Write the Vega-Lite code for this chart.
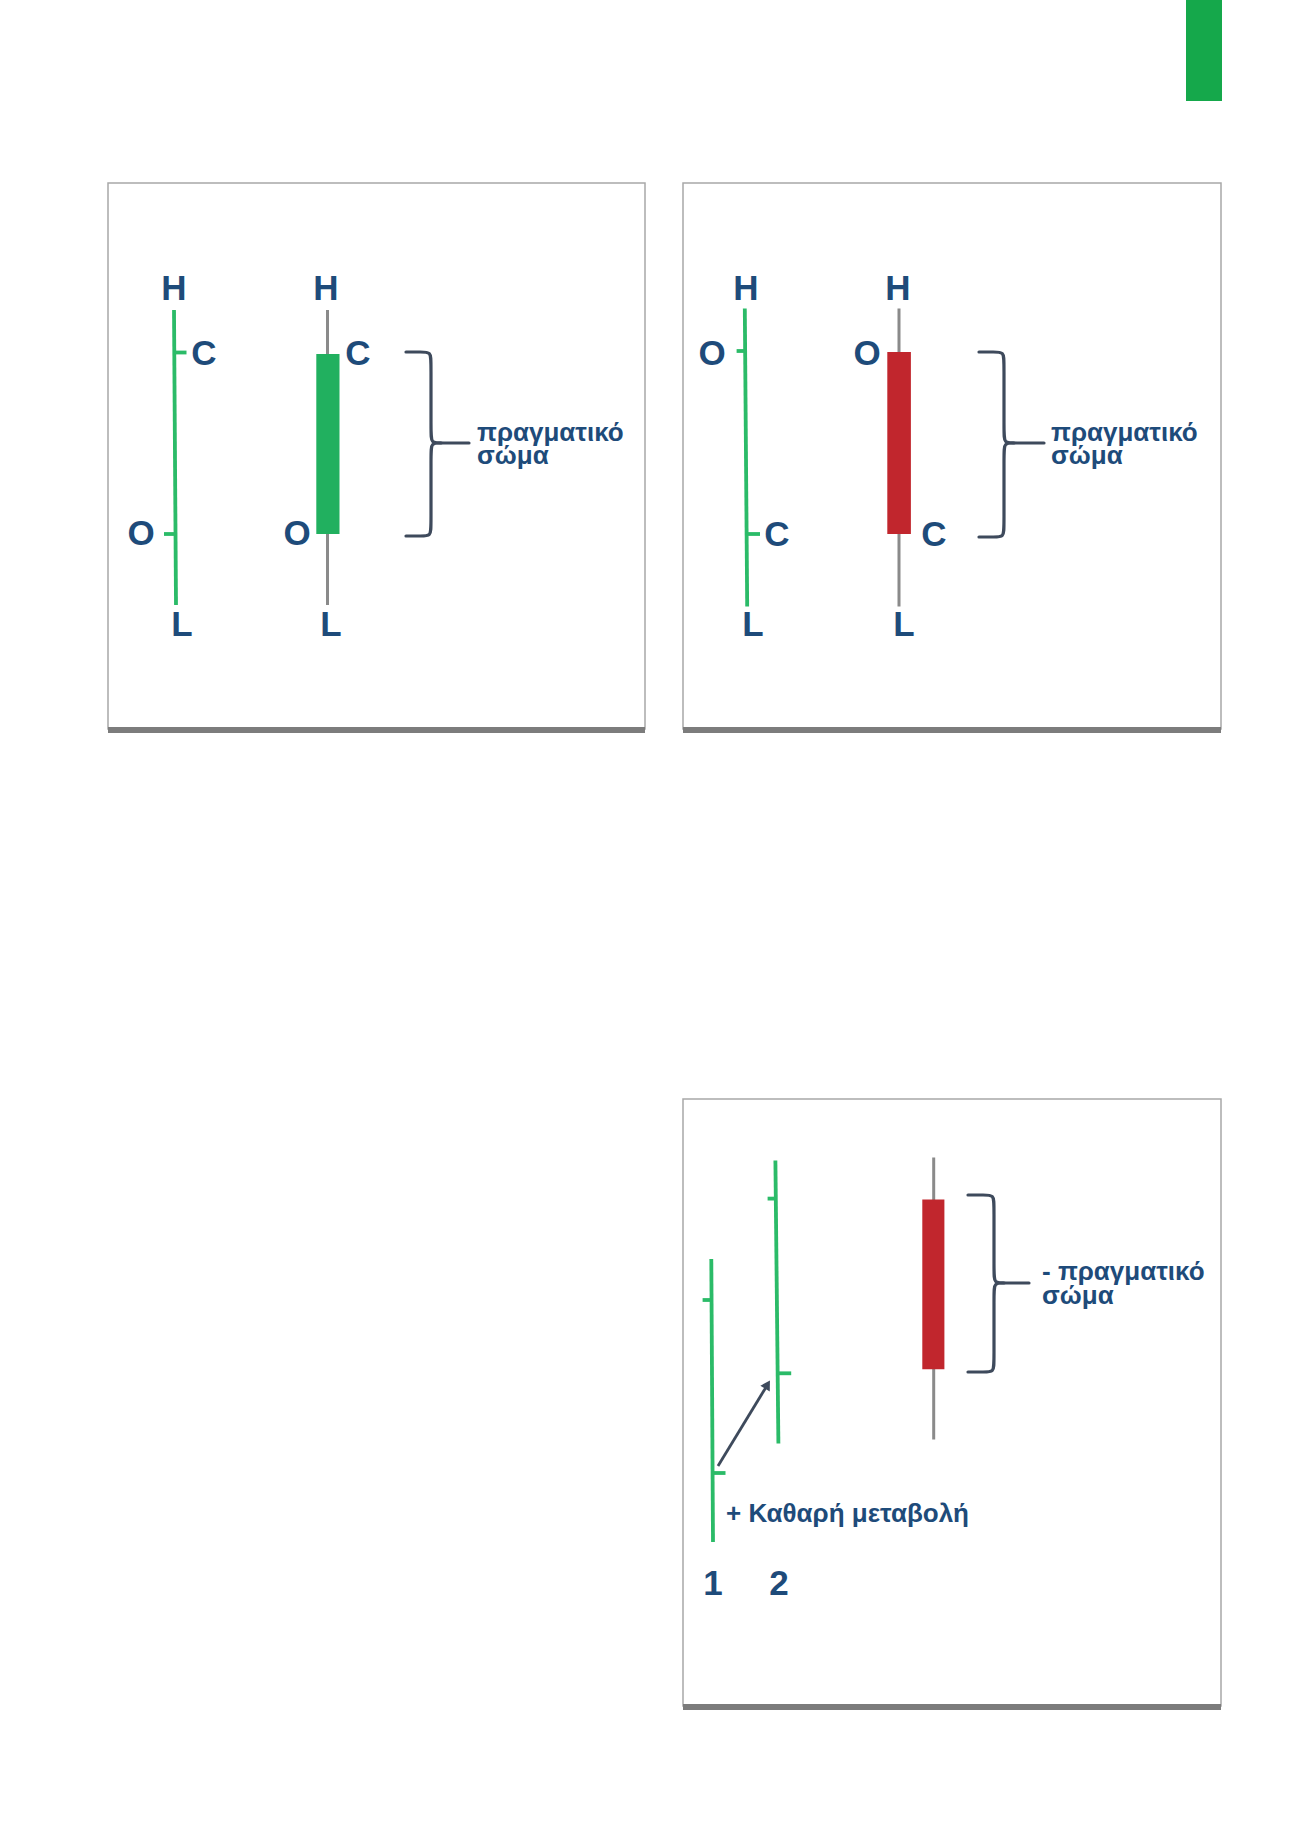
{
  "$schema": "https://vega.github.io/schema/vega-lite/v6.json",
  "width": 1292,
  "height": 1830,
  "autosize": "none",
  "padding": 0,
  "background": "white",
  "config": {"view": {"stroke": null}},
  "datasets": {
    "boxes": [
      {"panel": "1", "x": 108, "y": 183, "x2": 645, "y2": 729},
      {"panel": "2", "x": 683, "y": 183, "x2": 1221, "y2": 729},
      {"panel": "3", "x": 683, "y": 1099, "x2": 1221, "y2": 1706}
    ],
    "shadows": [
      {"panel": "1", "x": 108, "y": 727, "x2": 645, "y2": 733},
      {"panel": "2", "x": 683, "y": 727, "x2": 1221, "y2": 733},
      {"panel": "3", "x": 683, "y": 1704, "x2": 1221, "y2": 1710}
    ],
    "tab": [{"x": 1186, "y": 0, "x2": 1222, "y2": 101}],
    "wicks": [
      {"x": 327.5, "y": 310, "x2": 327.5, "y2": 605},
      {"x": 899, "y": 308.5, "x2": 899, "y2": 606.5},
      {"x": 933.7, "y": 1157.6, "x2": 933.7, "y2": 1439.6}
    ],
    "bodies": [
      {"dir": "up", "x": 316.3, "y": 354, "x2": 339.5, "y2": 534},
      {"dir": "down", "x": 887.3, "y": 352, "x2": 910.9, "y2": 534},
      {"dir": "down", "x": 922.3, "y": 1199.4, "x2": 944.4, "y2": 1369.3}
    ],
    "bars": [
      {"x": 174, "y": 310, "x2": 176, "y2": 605},
      {"x": 175, "y": 352.5, "x2": 186.5, "y2": 352.5},
      {"x": 164, "y": 534, "x2": 176, "y2": 534},
      {"x": 744.8, "y": 308.5, "x2": 747.2, "y2": 606.5},
      {"x": 736.6, "y": 351, "x2": 745.5, "y2": 351},
      {"x": 746.5, "y": 534, "x2": 760, "y2": 534},
      {"x": 711.3, "y": 1259, "x2": 713, "y2": 1542},
      {"x": 702.6, "y": 1300, "x2": 711.8, "y2": 1300},
      {"x": 712.6, "y": 1473, "x2": 725.5, "y2": 1473},
      {"x": 775.4, "y": 1160.4, "x2": 778.4, "y2": 1443.6},
      {"x": 767.6, "y": 1198.6, "x2": 776.2, "y2": 1198.6},
      {"x": 777.6, "y": 1373.3, "x2": 791.2, "y2": 1373.3}
    ],
    "braces": [
      {"id": "1a", "i": 0, "x": 406, "y": 352}, {"id": "1a", "i": 1, "x": 421, "y": 352}, {"id": "1a", "i": 2, "x": 431, "y": 352}, {"id": "1a", "i": 3, "x": 431, "y": 362}, {"id": "1a", "i": 4, "x": 431, "y": 433}, {"id": "1a", "i": 5, "x": 431, "y": 443}, {"id": "1a", "i": 6, "x": 441, "y": 443}, {"id": "1a", "i": 7, "x": 469, "y": 443},
      {"id": "1b", "i": 0, "x": 406, "y": 536}, {"id": "1b", "i": 1, "x": 421, "y": 536}, {"id": "1b", "i": 2, "x": 431, "y": 536}, {"id": "1b", "i": 3, "x": 431, "y": 526}, {"id": "1b", "i": 4, "x": 431, "y": 453}, {"id": "1b", "i": 5, "x": 431, "y": 443}, {"id": "1b", "i": 6, "x": 441, "y": 443},
      {"id": "2a", "i": 0, "x": 979, "y": 352}, {"id": "2a", "i": 1, "x": 994, "y": 352}, {"id": "2a", "i": 2, "x": 1004, "y": 352}, {"id": "2a", "i": 3, "x": 1004, "y": 362}, {"id": "2a", "i": 4, "x": 1004, "y": 433}, {"id": "2a", "i": 5, "x": 1004, "y": 443}, {"id": "2a", "i": 6, "x": 1014, "y": 443}, {"id": "2a", "i": 7, "x": 1044, "y": 443},
      {"id": "2b", "i": 0, "x": 979, "y": 537}, {"id": "2b", "i": 1, "x": 994, "y": 537}, {"id": "2b", "i": 2, "x": 1004, "y": 537}, {"id": "2b", "i": 3, "x": 1004, "y": 527}, {"id": "2b", "i": 4, "x": 1004, "y": 453}, {"id": "2b", "i": 5, "x": 1004, "y": 443}, {"id": "2b", "i": 6, "x": 1014, "y": 443},
      {"id": "3a", "i": 0, "x": 968, "y": 1195}, {"id": "3a", "i": 1, "x": 984, "y": 1195}, {"id": "3a", "i": 2, "x": 994, "y": 1195}, {"id": "3a", "i": 3, "x": 994, "y": 1205}, {"id": "3a", "i": 4, "x": 994, "y": 1273}, {"id": "3a", "i": 5, "x": 994, "y": 1283}, {"id": "3a", "i": 6, "x": 1004, "y": 1283}, {"id": "3a", "i": 7, "x": 1029, "y": 1283},
      {"id": "3b", "i": 0, "x": 968, "y": 1372}, {"id": "3b", "i": 1, "x": 984, "y": 1372}, {"id": "3b", "i": 2, "x": 994, "y": 1372}, {"id": "3b", "i": 3, "x": 994, "y": 1362}, {"id": "3b", "i": 4, "x": 994, "y": 1293}, {"id": "3b", "i": 5, "x": 994, "y": 1283}, {"id": "3b", "i": 6, "x": 1004, "y": 1283}
    ],
    "arrow": [{"x": 718, "y": 1466, "x2": 768, "y2": 1384}],
    "arrowhead": [{"x": 767.5, "y": 1384.5}],
    "labels": [
      {"t": "H", "x": 174, "y": 289}, {"t": "C", "x": 204, "y": 354}, {"t": "O", "x": 141, "y": 534}, {"t": "L", "x": 182, "y": 625},
      {"t": "H", "x": 326, "y": 289}, {"t": "C", "x": 358, "y": 354}, {"t": "O", "x": 297, "y": 534}, {"t": "L", "x": 331, "y": 625},
      {"t": "H", "x": 746, "y": 289}, {"t": "O", "x": 712, "y": 354}, {"t": "C", "x": 777, "y": 535}, {"t": "L", "x": 753, "y": 625},
      {"t": "H", "x": 898, "y": 289}, {"t": "O", "x": 867, "y": 354}, {"t": "C", "x": 934, "y": 535}, {"t": "L", "x": 904, "y": 625},
      {"t": "1", "x": 713, "y": 1584}, {"t": "2", "x": 779, "y": 1584}
    ],
    "captions": [
      {"t": "πραγματικό", "x": 477, "y": 433}, {"t": "σώμα", "x": 477, "y": 456},
      {"t": "πραγματικό", "x": 1051, "y": 433}, {"t": "σώμα", "x": 1051, "y": 456},
      {"t": "- πραγματικό", "x": 1042, "y": 1272}, {"t": "σώμα", "x": 1042, "y": 1296},
      {"t": "+ Καθαρή μεταβολή", "x": 726, "y": 1514}
    ]
  },
  "encoding": {
    "x": {"field": "x", "type": "quantitative", "axis": null, "scale": {"domain": [0, 1292], "nice": false, "zero": false}},
    "y": {"field": "y", "type": "quantitative", "axis": null, "scale": {"domain": [0, 1830], "nice": false, "zero": false, "reverse": true}}
  },
  "layer": [
    {"data": {"name": "boxes"}, "mark": {"type": "rect", "fill": "white", "stroke": "#a8a8a8", "strokeWidth": 1.5}, "encoding": {"x2": {"field": "x2"}, "y2": {"field": "y2"}}},
    {"data": {"name": "shadows"}, "mark": {"type": "rect", "fill": "#7c7c7c"}, "encoding": {"x2": {"field": "x2"}, "y2": {"field": "y2"}}},
    {"data": {"name": "tab"}, "mark": {"type": "rect", "fill": "#15a84b"}, "encoding": {"x2": {"field": "x2"}, "y2": {"field": "y2"}}},
    {"data": {"name": "wicks"}, "mark": {"type": "rule", "stroke": "#8a8a8a", "strokeWidth": 3}, "encoding": {"x2": {"field": "x2"}, "y2": {"field": "y2"}}},
    {"data": {"name": "bodies"}, "mark": {"type": "rect"}, "encoding": {"x2": {"field": "x2"}, "y2": {"field": "y2"}, "color": {"field": "dir", "type": "nominal", "legend": null, "scale": {"domain": ["up", "down"], "range": ["#21b05f", "#c1262d"]}}}},
    {"data": {"name": "bars"}, "mark": {"type": "rule", "stroke": "#2bbb68", "strokeWidth": 3.8}, "encoding": {"x2": {"field": "x2"}, "y2": {"field": "y2"}}},
    {"data": {"name": "braces"}, "mark": {"type": "line", "stroke": "#3e4a5c", "strokeWidth": 3.2, "interpolate": "basis", "strokeCap": "round"}, "encoding": {"detail": {"field": "id"}, "order": {"field": "i", "type": "quantitative"}}},
    {"data": {"name": "arrow"}, "mark": {"type": "rule", "stroke": "#3e4a5c", "strokeWidth": 2.8}, "encoding": {"x2": {"field": "x2"}, "y2": {"field": "y2"}}},
    {"data": {"name": "arrowhead"}, "mark": {"type": "point", "shape": "triangle-up", "filled": true, "fill": "#3e4a5c", "size": 120, "angle": 31, "opacity": 1}, "encoding": {}},
    {"data": {"name": "labels"}, "mark": {"type": "text", "font": "Liberation Sans", "fontWeight": "bold", "fontSize": 35, "color": "#1e4b7a", "align": "center", "baseline": "middle"}, "encoding": {"text": {"field": "t"}}},
    {"data": {"name": "captions"}, "mark": {"type": "text", "font": "Liberation Sans", "fontWeight": "bold", "fontSize": 26, "color": "#1e4b7a", "align": "left", "baseline": "middle"}, "encoding": {"text": {"field": "t"}}}
  ]
}
